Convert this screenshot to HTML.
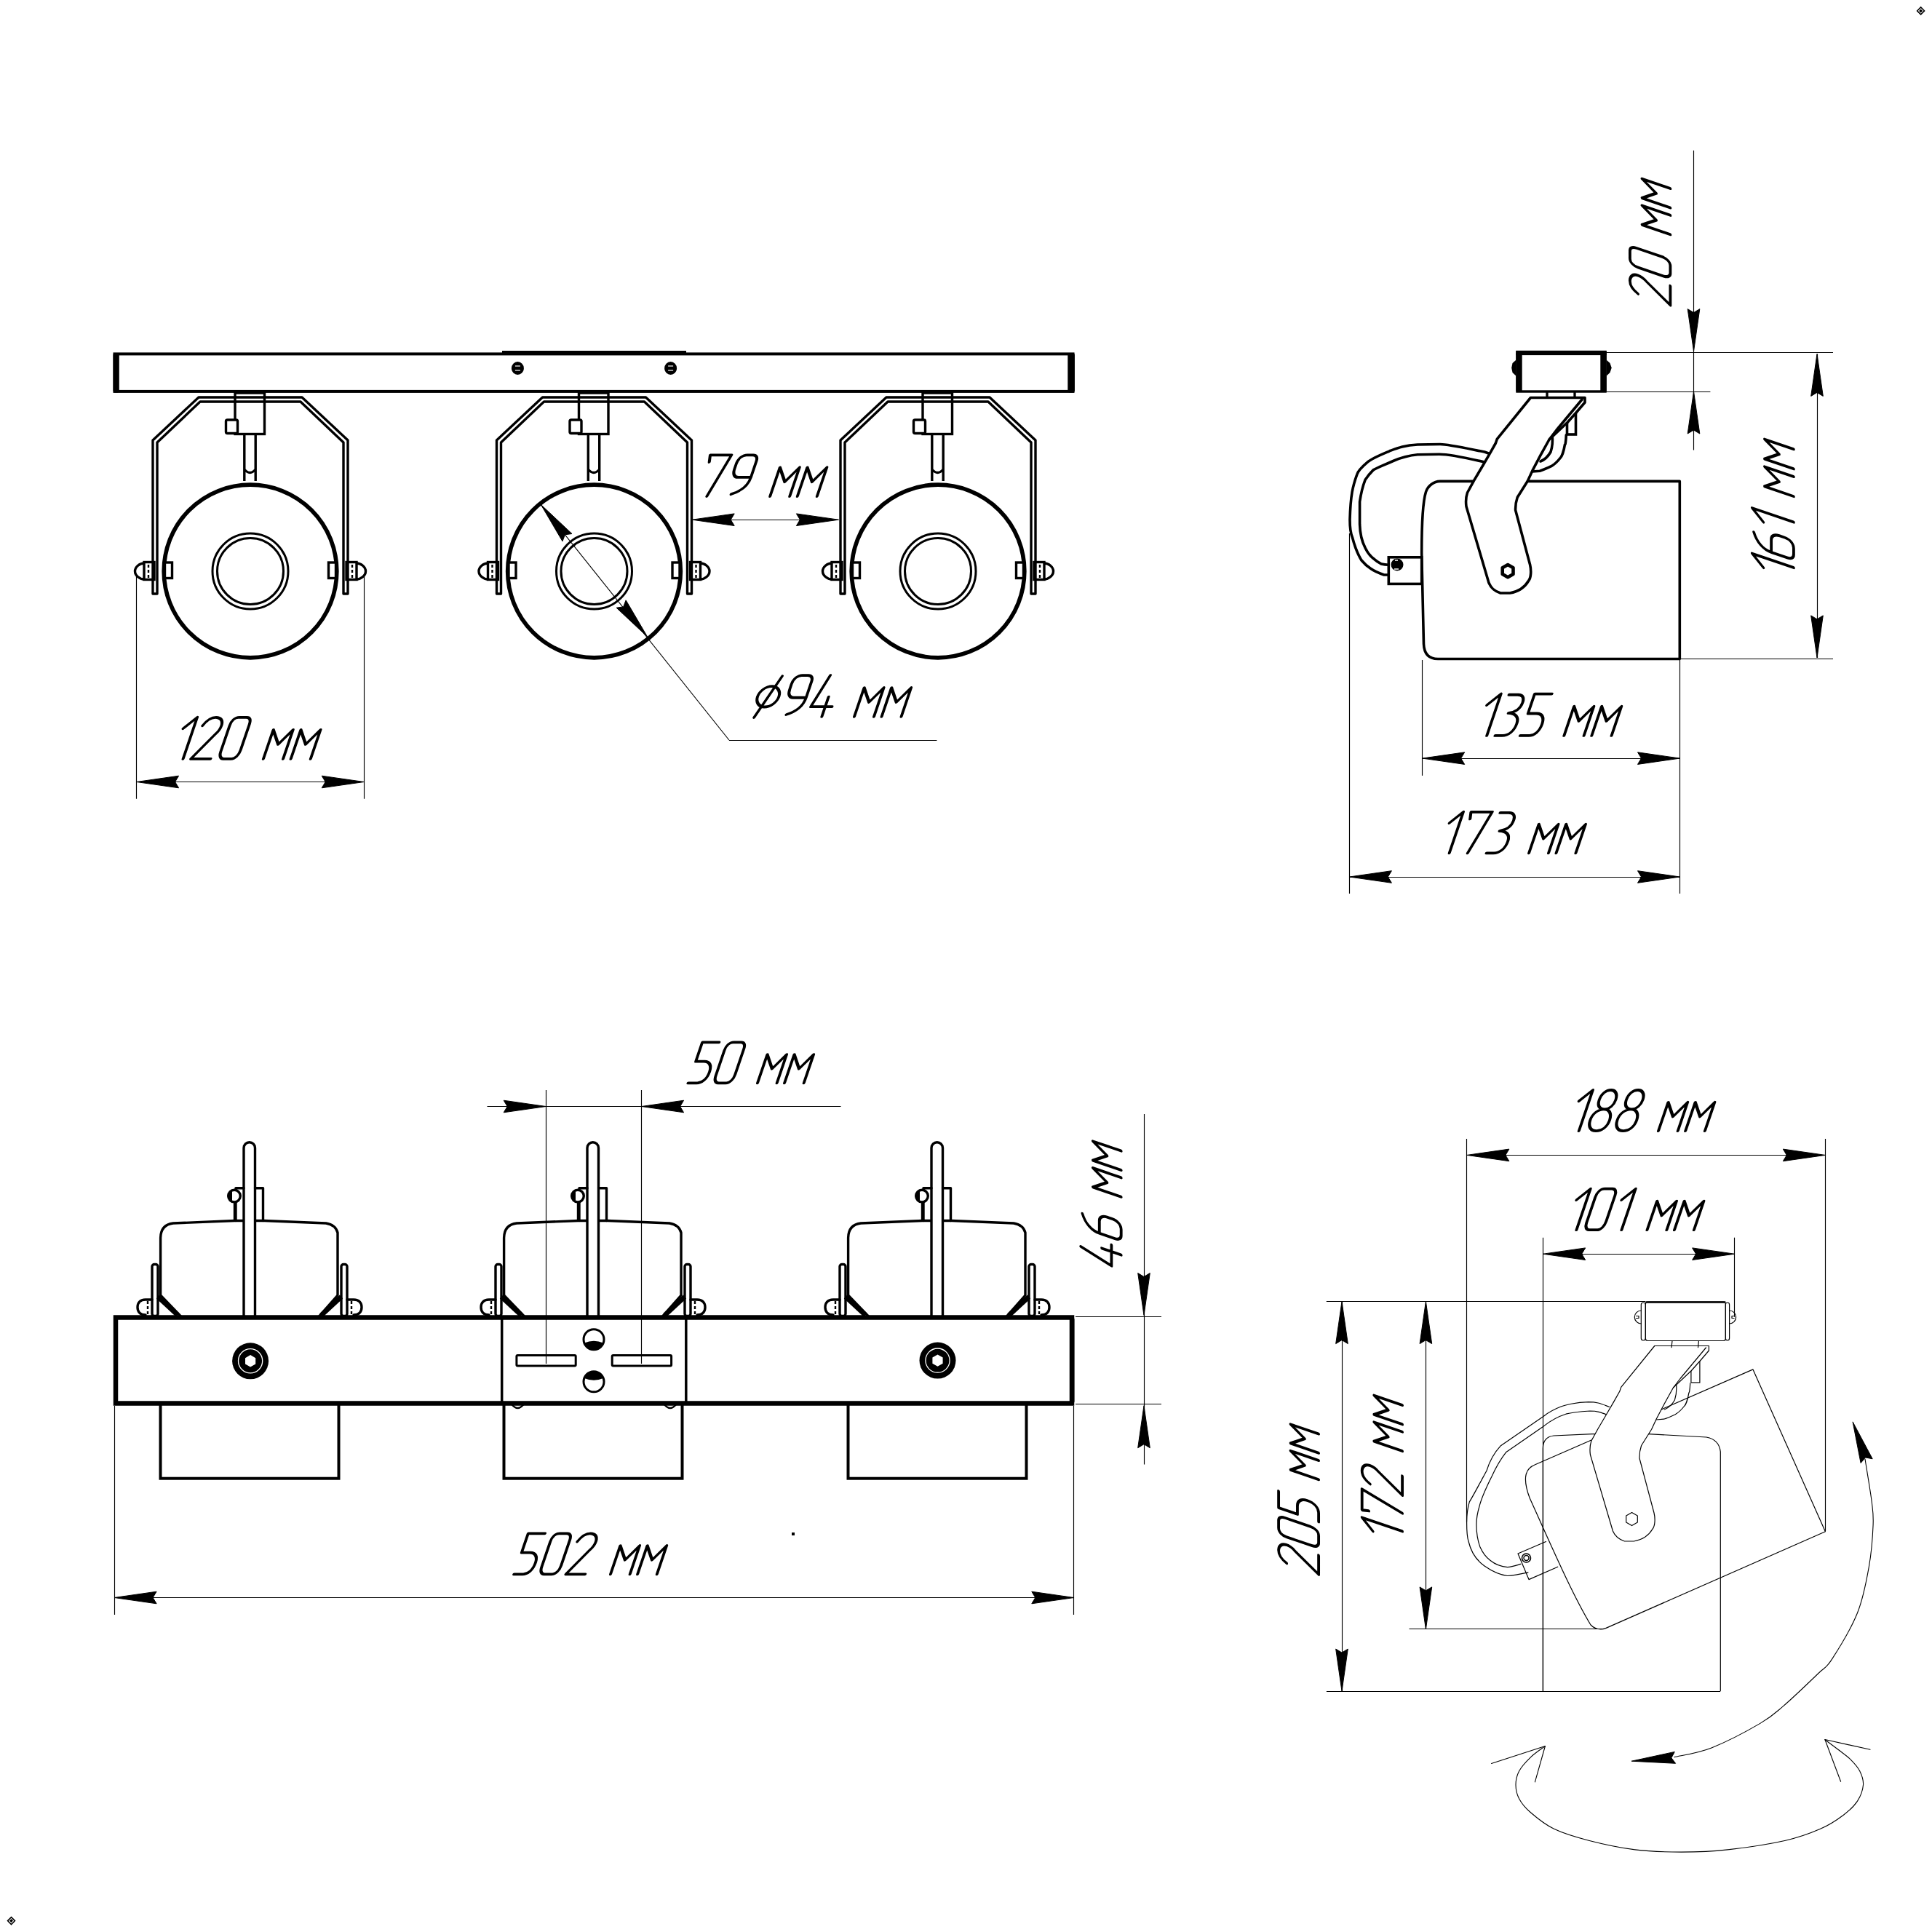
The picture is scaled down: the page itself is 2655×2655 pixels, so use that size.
<!DOCTYPE html>
<html><head><meta charset="utf-8"><style>
html,body{margin:0;padding:0;background:#fff;}
svg{display:block;}
</style></head><body>
<svg xmlns="http://www.w3.org/2000/svg" width="2655" height="2655" viewBox="0 0 2655 2655">
<rect width="2655" height="2655" fill="#fff"/>
<rect x="157.5" y="486.4" width="1317" height="51.5" fill="none" stroke="#000" stroke-width="4"/><rect x="155.5" y="485" width="8.3" height="54.5" fill="#000" rx="3"/><rect x="1467.3" y="485" width="9.6" height="54.5" fill="#000" rx="3"/><rect x="690" y="482" width="253" height="5" fill="#000"/><ellipse cx="711.4" cy="506" rx="8.5" ry="9" fill="#000"/><line x1="707.9" y1="503" x2="714.9" y2="503" stroke="#fff" stroke-width="1.2"/><line x1="707.9" y1="509" x2="714.9" y2="509" stroke="#fff" stroke-width="1.2"/><ellipse cx="921.6" cy="506" rx="8.5" ry="9" fill="#000"/><line x1="918.1" y1="503" x2="925.1" y2="503" stroke="#fff" stroke-width="1.2"/><line x1="918.1" y1="509" x2="925.1" y2="509" stroke="#fff" stroke-width="1.2"/><path d="M213,816 L210,816 L210,605 L273,546 L415,546 L478,605 L478,816 L472,816 L472,608 L413,552 L275,552 L216,608 L216,816 Z" fill="none" stroke="#000" stroke-width="3.4" stroke-linejoin="round"/><rect x="323" y="540" width="40.5" height="56.5" fill="none" stroke="#000" stroke-width="3.4"/><rect x="310.5" y="577" width="16" height="18.5" rx="2" fill="#fff" stroke="#000" stroke-width="3.4"/><path d="M335.8,596.5 L335.8,661 M351.2,596.5 L351.2,661 M335.8,645 Q343.5,654 351.2,645" fill="none" stroke="#000" stroke-width="3.4"/><circle cx="344" cy="785" r="118.8" fill="none" stroke="#000" stroke-width="5.7"/><circle cx="344" cy="785" r="52" fill="none" stroke="#000" stroke-width="3"/><circle cx="344" cy="785" r="45.5" fill="none" stroke="#000" stroke-width="3"/><rect x="226.5" y="773" width="10" height="21.5" fill="#fff" stroke="#000" stroke-width="3.4"/><rect x="198" y="772.5" width="14" height="24" fill="none" stroke="#000" stroke-width="3.4"/><path d="M198,774 C192,774 185.5,779 185.5,785 C185.5,791 192,796 198,796" fill="none" stroke="#000" stroke-width="3.4"/><line x1="204" y1="776" x2="204" y2="794" stroke="#000" stroke-width="2.4" stroke-dasharray="4,3"/><rect x="451.5" y="773" width="10" height="21.5" fill="#fff" stroke="#000" stroke-width="3.4"/><rect x="476" y="772.5" width="14" height="24" fill="none" stroke="#000" stroke-width="3.4"/><path d="M490,774 C496,774 502.5,779 502.5,785 C502.5,791 496,796 490,796" fill="none" stroke="#000" stroke-width="3.4"/><line x1="484" y1="776" x2="484" y2="794" stroke="#000" stroke-width="2.4" stroke-dasharray="4,3"/><path d="M685.5,816 L682.5,816 L682.5,605 L745.5,546 L887.5,546 L950.5,605 L950.5,816 L944.5,816 L944.5,608 L885.5,552 L747.5,552 L688.5,608 L688.5,816 Z" fill="none" stroke="#000" stroke-width="3.4" stroke-linejoin="round"/><rect x="795.5" y="540" width="40.5" height="56.5" fill="none" stroke="#000" stroke-width="3.4"/><rect x="783.0" y="577" width="16" height="18.5" rx="2" fill="#fff" stroke="#000" stroke-width="3.4"/><path d="M808.3,596.5 L808.3,661 M823.7,596.5 L823.7,661 M808.3,645 Q816.0,654 823.7,645" fill="none" stroke="#000" stroke-width="3.4"/><circle cx="816.5" cy="785" r="118.8" fill="none" stroke="#000" stroke-width="5.7"/><circle cx="816.5" cy="785" r="52" fill="none" stroke="#000" stroke-width="3"/><circle cx="816.5" cy="785" r="45.5" fill="none" stroke="#000" stroke-width="3"/><rect x="699.0" y="773" width="10" height="21.5" fill="#fff" stroke="#000" stroke-width="3.4"/><rect x="670.5" y="772.5" width="14" height="24" fill="none" stroke="#000" stroke-width="3.4"/><path d="M670.5,774 C664.5,774 658.0,779 658.0,785 C658.0,791 664.5,796 670.5,796" fill="none" stroke="#000" stroke-width="3.4"/><line x1="676.5" y1="776" x2="676.5" y2="794" stroke="#000" stroke-width="2.4" stroke-dasharray="4,3"/><rect x="924.0" y="773" width="10" height="21.5" fill="#fff" stroke="#000" stroke-width="3.4"/><rect x="948.5" y="772.5" width="14" height="24" fill="none" stroke="#000" stroke-width="3.4"/><path d="M962.5,774 C968.5,774 975.0,779 975.0,785 C975.0,791 968.5,796 962.5,796" fill="none" stroke="#000" stroke-width="3.4"/><line x1="956.5" y1="776" x2="956.5" y2="794" stroke="#000" stroke-width="2.4" stroke-dasharray="4,3"/><path d="M1158,816 L1155,816 L1155,605 L1218,546 L1360,546 L1423,605 L1423,816 L1417,816 L1417,608 L1358,552 L1220,552 L1161,608 L1161,816 Z" fill="none" stroke="#000" stroke-width="3.4" stroke-linejoin="round"/><rect x="1268" y="540" width="40.5" height="56.5" fill="none" stroke="#000" stroke-width="3.4"/><rect x="1255.5" y="577" width="16" height="18.5" rx="2" fill="#fff" stroke="#000" stroke-width="3.4"/><path d="M1280.8,596.5 L1280.8,661 M1296.2,596.5 L1296.2,661 M1280.8,645 Q1288.5,654 1296.2,645" fill="none" stroke="#000" stroke-width="3.4"/><circle cx="1289" cy="785" r="118.8" fill="none" stroke="#000" stroke-width="5.7"/><circle cx="1289" cy="785" r="52" fill="none" stroke="#000" stroke-width="3"/><circle cx="1289" cy="785" r="45.5" fill="none" stroke="#000" stroke-width="3"/><rect x="1171.5" y="773" width="10" height="21.5" fill="#fff" stroke="#000" stroke-width="3.4"/><rect x="1143" y="772.5" width="14" height="24" fill="none" stroke="#000" stroke-width="3.4"/><path d="M1143,774 C1137,774 1130.5,779 1130.5,785 C1130.5,791 1137,796 1143,796" fill="none" stroke="#000" stroke-width="3.4"/><line x1="1149" y1="776" x2="1149" y2="794" stroke="#000" stroke-width="2.4" stroke-dasharray="4,3"/><rect x="1396.5" y="773" width="10" height="21.5" fill="#fff" stroke="#000" stroke-width="3.4"/><rect x="1421" y="772.5" width="14" height="24" fill="none" stroke="#000" stroke-width="3.4"/><path d="M1435,774 C1441,774 1447.5,779 1447.5,785 C1447.5,791 1441,796 1435,796" fill="none" stroke="#000" stroke-width="3.4"/><line x1="1429" y1="776" x2="1429" y2="794" stroke="#000" stroke-width="2.4" stroke-dasharray="4,3"/><line x1="187.5" y1="790.0" x2="187.5" y2="1097.7" stroke="#000" stroke-width="1.15"/><line x1="500.5" y1="790.0" x2="500.5" y2="1097.7" stroke="#000" stroke-width="1.15"/><line x1="187.6" y1="1074.5" x2="500.2" y2="1074.5" stroke="#000" stroke-width="1.15"/><path d="M187.6,1074.5 L245.6,1066.2 L240.6,1074.5 L245.6,1082.8 Z" fill="#000" stroke="#000" stroke-width="1" stroke-linejoin="round"/><path d="M500.2,1074.5 L442.2,1082.8 L447.2,1074.5 L442.2,1066.2 Z" fill="#000" stroke="#000" stroke-width="1" stroke-linejoin="round"/><g transform="translate(236.90,1042.80) rotate(0) scale(5.9000,5.7000) skewX(-18.184) translate(0.000,0)" fill="none" stroke="#000" stroke-width="0.6725" stroke-linecap="round" stroke-linejoin="round"><path transform="translate(0.000,0)" d="M0.1,-7.3 L2.5,-10 L2.5,0"/><path transform="translate(4.300,0)" d="M0.1,-8.0 C0.7,-9.4 1.6,-10 2.5,-10 C3.7,-10 4.5,-9.2 4.5,-8.0 C4.5,-7.1 4.2,-6.5 3.7,-5.9 L0,0 L4.6,0"/><path transform="translate(10.700,0)" d="M1.5,-10 L3.3,-10 C4.1,-10 4.5,-9.3 4.5,-8.4 L4.5,-2.1 C4.5,-0.9 3.9,0 3.0,0 L1.2,0 C0.5,0 0,-0.7 0,-1.7 L0,-8 C0,-9.2 0.6,-10 1.5,-10 Z"/><path transform="translate(21.200,0)" d="M0,0 L0,-7 L2.3,-3.5 L4.6,-7 L4.6,0"/><path transform="translate(27.600,0)" d="M0,0 L0,-7 L2.3,-3.5 L4.6,-7 L4.6,0"/></g><line x1="951.2" y1="714.5" x2="1152.4" y2="714.5" stroke="#000" stroke-width="1.15"/><path d="M951.2,714.2 L1009.2,705.9 L1004.2,714.2 L1009.2,722.5 Z" fill="#000" stroke="#000" stroke-width="1" stroke-linejoin="round"/><path d="M1152.4,714.2 L1094.4,722.5 L1099.4,714.2 L1094.4,705.9 Z" fill="#000" stroke="#000" stroke-width="1" stroke-linejoin="round"/><g transform="translate(956.70,682.00) rotate(0) scale(5.8700,5.6700) skewX(-18.181) translate(0.000,0)" fill="none" stroke="#000" stroke-width="0.6760" stroke-linecap="round" stroke-linejoin="round"><path transform="translate(0.000,0)" d="M0.35,-8.3 L0,-10 L5.0,-10 L2.5,0"/><path transform="translate(6.800,0)" d="M4.5,-4.6 L1.5,-4.6 C0.6,-4.6 0,-5.4 0,-6.6 L0,-7.8 C0,-9.2 0.8,-10 1.8,-10 L3.2,-10 C4.0,-10 4.5,-9.4 4.5,-8.5 L4.5,-4.6 C4.5,-2.6 3.2,-1.2 1.2,-0.5"/><path transform="translate(17.300,0)" d="M0,0 L0,-7 L2.3,-3.5 L4.6,-7 L4.6,0"/><path transform="translate(23.700,0)" d="M0,0 L0,-7 L2.3,-3.5 L4.6,-7 L4.6,0"/></g><line x1="743.3" y1="693.4" x2="1001.9" y2="1017.0" stroke="#000" stroke-width="1.15"/><line x1="1001.9" y1="1017.5" x2="1287.4" y2="1017.5" stroke="#000" stroke-width="1.15"/><path d="M743.3,693.4 L786.0,733.5 L776.4,734.8 L773.0,743.9 Z" fill="#000" stroke="#000" stroke-width="1" stroke-linejoin="round"/><path d="M889.8,875.3 L847.1,835.2 L856.7,833.9 L860.1,824.8 Z" fill="#000" stroke="#000" stroke-width="1" stroke-linejoin="round"/><g transform="translate(1030.80,984.80) rotate(0) scale(5.8700,5.6700) skewX(-18.181) translate(0.000,0)" fill="none" stroke="#000" stroke-width="0.6760" stroke-linecap="round" stroke-linejoin="round"><path transform="translate(0.000,0)" d="M5.15,-4.85 A2.5,2.5 0 1 1 0.15,-4.85 A2.5,2.5 0 1 1 5.15,-4.85 Z M1.0,0.2 L4.3,-9.8"/><path transform="translate(7.100,0)" d="M4.5,-4.6 L1.5,-4.6 C0.6,-4.6 0,-5.4 0,-6.6 L0,-7.8 C0,-9.2 0.8,-10 1.8,-10 L3.2,-10 C4.0,-10 4.5,-9.4 4.5,-8.5 L4.5,-4.6 C4.5,-2.6 3.2,-1.2 1.2,-0.5"/><path transform="translate(13.400,0)" d="M2.1,-10 L0,-2.4 L5.0,-2.4 M3.4,-4.8 L3.4,0"/><path transform="translate(24.400,0)" d="M0,0 L0,-7 L2.3,-3.5 L4.6,-7 L4.6,0"/><path transform="translate(30.800,0)" d="M0,0 L0,-7 L2.3,-3.5 L4.6,-7 L4.6,0"/></g><rect x="220.5" y="1928" width="245" height="103.7" fill="none" stroke="#000" stroke-width="4"/><path d="M248,1808.4 L220.6,1780 L220.6,1701 Q221,1683 238,1681 L323,1677.5 L363,1677.5 L448,1681 Q461,1683 464,1694 L464,1780 L439,1808.4" fill="none" stroke="#000" stroke-width="3.4" stroke-linejoin="round" stroke-linecap="round" /><path d="M335,1809 L335,1577.5 A7.75,7.75 0 0 1 350.5,1577.5 L350.5,1809" fill="#fff" stroke="#000" stroke-width="3.4"/><path d="M324,1677.5 L324,1632.8 L335,1632.8 M350.5,1632.8 L361.5,1632.8 L361.5,1677.5" fill="none" stroke="#000" stroke-width="3.4" stroke-linejoin="round" stroke-linecap="round" /><circle cx="322" cy="1643.6" r="8.3" fill="#fff" stroke="#000" stroke-width="3.4"/><path d="M319,1635.5 A8.3,8.3 0 0 0 319,1651.7 Z" fill="#000"/><line x1="322.5" y1="1652.0" x2="322.5" y2="1677.5" stroke="#000" stroke-width="3.4"/><rect x="209" y="1737.5" width="8" height="71" rx="3" fill="#fff" stroke="#000" stroke-width="3.4"/><line x1="217.0" y1="1782.0" x2="244.5" y2="1807.5" stroke="#000" stroke-width="6.5"/><path d="M209,1786 L200,1786 C192,1786 189,1791 189,1796.5 C189,1802 192,1807 200,1807" fill="none" stroke="#000" stroke-width="3.4" stroke-linejoin="round" stroke-linecap="round" /><line x1="203" y1="1788" x2="203" y2="1806" stroke="#000" stroke-width="2.4" stroke-dasharray="4,3"/><rect x="469" y="1737.5" width="8" height="71" rx="3" fill="#fff" stroke="#000" stroke-width="3.4"/><line x1="469.0" y1="1782.0" x2="441.5" y2="1807.5" stroke="#000" stroke-width="6.5"/><path d="M477,1786 L486,1786 C494,1786 497,1791 497,1796.5 C497,1802 494,1807 486,1807" fill="none" stroke="#000" stroke-width="3.4" stroke-linejoin="round" stroke-linecap="round" /><line x1="483" y1="1788" x2="483" y2="1806" stroke="#000" stroke-width="2.4" stroke-dasharray="4,3"/><rect x="692.5" y="1928" width="245" height="103.7" fill="none" stroke="#000" stroke-width="4"/><path d="M720,1808.4 L692.6,1780 L692.6,1701 Q693,1683 710,1681 L795,1677.5 L835,1677.5 L920,1681 Q933,1683 936,1694 L936,1780 L911,1808.4" fill="none" stroke="#000" stroke-width="3.4" stroke-linejoin="round" stroke-linecap="round" /><path d="M807,1809 L807,1577.5 A7.75,7.75 0 0 1 822.5,1577.5 L822.5,1809" fill="#fff" stroke="#000" stroke-width="3.4"/><path d="M796,1677.5 L796,1632.8 L807,1632.8 M822.5,1632.8 L833.5,1632.8 L833.5,1677.5" fill="none" stroke="#000" stroke-width="3.4" stroke-linejoin="round" stroke-linecap="round" /><circle cx="794" cy="1643.6" r="8.3" fill="#fff" stroke="#000" stroke-width="3.4"/><path d="M791,1635.5 A8.3,8.3 0 0 0 791,1651.7 Z" fill="#000"/><line x1="794.5" y1="1652.0" x2="794.5" y2="1677.5" stroke="#000" stroke-width="3.4"/><rect x="681" y="1737.5" width="8" height="71" rx="3" fill="#fff" stroke="#000" stroke-width="3.4"/><line x1="689.0" y1="1782.0" x2="716.5" y2="1807.5" stroke="#000" stroke-width="6.5"/><path d="M681,1786 L672,1786 C664,1786 661,1791 661,1796.5 C661,1802 664,1807 672,1807" fill="none" stroke="#000" stroke-width="3.4" stroke-linejoin="round" stroke-linecap="round" /><line x1="675" y1="1788" x2="675" y2="1806" stroke="#000" stroke-width="2.4" stroke-dasharray="4,3"/><rect x="941" y="1737.5" width="8" height="71" rx="3" fill="#fff" stroke="#000" stroke-width="3.4"/><line x1="941.0" y1="1782.0" x2="913.5" y2="1807.5" stroke="#000" stroke-width="6.5"/><path d="M949,1786 L958,1786 C966,1786 969,1791 969,1796.5 C969,1802 966,1807 958,1807" fill="none" stroke="#000" stroke-width="3.4" stroke-linejoin="round" stroke-linecap="round" /><line x1="955" y1="1788" x2="955" y2="1806" stroke="#000" stroke-width="2.4" stroke-dasharray="4,3"/><rect x="1165.5" y="1928" width="245" height="103.7" fill="none" stroke="#000" stroke-width="4"/><path d="M1193,1808.4 L1165.6,1780 L1165.6,1701 Q1166,1683 1183,1681 L1268,1677.5 L1308,1677.5 L1393,1681 Q1406,1683 1409,1694 L1409,1780 L1384,1808.4" fill="none" stroke="#000" stroke-width="3.4" stroke-linejoin="round" stroke-linecap="round" /><path d="M1280,1809 L1280,1577.5 A7.75,7.75 0 0 1 1295.5,1577.5 L1295.5,1809" fill="#fff" stroke="#000" stroke-width="3.4"/><path d="M1269,1677.5 L1269,1632.8 L1280,1632.8 M1295.5,1632.8 L1306.5,1632.8 L1306.5,1677.5" fill="none" stroke="#000" stroke-width="3.4" stroke-linejoin="round" stroke-linecap="round" /><circle cx="1267" cy="1643.6" r="8.3" fill="#fff" stroke="#000" stroke-width="3.4"/><path d="M1264,1635.5 A8.3,8.3 0 0 0 1264,1651.7 Z" fill="#000"/><line x1="1267.5" y1="1652.0" x2="1267.5" y2="1677.5" stroke="#000" stroke-width="3.4"/><rect x="1154" y="1737.5" width="8" height="71" rx="3" fill="#fff" stroke="#000" stroke-width="3.4"/><line x1="1162.0" y1="1782.0" x2="1189.5" y2="1807.5" stroke="#000" stroke-width="6.5"/><path d="M1154,1786 L1145,1786 C1137,1786 1134,1791 1134,1796.5 C1134,1802 1137,1807 1145,1807" fill="none" stroke="#000" stroke-width="3.4" stroke-linejoin="round" stroke-linecap="round" /><line x1="1148" y1="1788" x2="1148" y2="1806" stroke="#000" stroke-width="2.4" stroke-dasharray="4,3"/><rect x="1414" y="1737.5" width="8" height="71" rx="3" fill="#fff" stroke="#000" stroke-width="3.4"/><line x1="1414.0" y1="1782.0" x2="1386.5" y2="1807.5" stroke="#000" stroke-width="6.5"/><path d="M1422,1786 L1431,1786 C1439,1786 1442,1791 1442,1796.5 C1442,1802 1439,1807 1431,1807" fill="none" stroke="#000" stroke-width="3.4" stroke-linejoin="round" stroke-linecap="round" /><line x1="1428" y1="1788" x2="1428" y2="1806" stroke="#000" stroke-width="2.4" stroke-dasharray="4,3"/><rect x="159" y="1810.5" width="1314" height="118" fill="#fff" stroke="#000" stroke-width="6.5"/><rect x="156" y="1811" width="6" height="117" fill="#000" rx="2"/><rect x="1470" y="1811" width="6.5" height="117" fill="#000" rx="2"/><line x1="689.7" y1="1810.0" x2="689.7" y2="1928.0" stroke="#000" stroke-width="3.5"/><line x1="942.8" y1="1810.0" x2="942.8" y2="1928.0" stroke="#000" stroke-width="3.5"/><rect x="709.9" y="1862.4" width="81.3" height="14.6" rx="1.5" fill="none" stroke="#000" stroke-width="3"/><rect x="841.2" y="1862.4" width="81.4" height="14.6" rx="1.5" fill="none" stroke="#000" stroke-width="3"/><circle cx="816" cy="1840.7" r="14" fill="none" stroke="#000" stroke-width="3"/><circle cx="816" cy="1898.8" r="14" fill="none" stroke="#000" stroke-width="3"/><path d="M803,1845.5 Q816,1840 829,1845.5 A14,14 0 0 1 803,1845.5 Z" fill="#000"/><path d="M803,1894 Q816,1899.5 829,1894 A14,14 0 0 0 803,1894 Z" fill="#000"/><path d="M703.4,1930 Q711.4,1940 719.4,1930" fill="none" stroke="#000" stroke-width="2.5" stroke-linejoin="round" stroke-linecap="round" /><path d="M913,1930 Q921,1940 929,1930" fill="none" stroke="#000" stroke-width="2.5" stroke-linejoin="round" stroke-linecap="round" /><circle cx="344.1" cy="1870.3" r="25" fill="#000"/><circle cx="344.1" cy="1870.3" r="16.6" fill="none" stroke="#fff" stroke-width="1.3"/><path d="M351.2,1874.4 L344.1,1878.5 L337.0,1874.4 L337.0,1866.2 L344.1,1862.1 L351.2,1866.2 Z" fill="#fff"/><circle cx="1288.5" cy="1869.6" r="25" fill="#000"/><circle cx="1288.5" cy="1869.6" r="16.6" fill="none" stroke="#fff" stroke-width="1.3"/><path d="M1295.6,1873.7 L1288.5,1877.8 L1281.4,1873.7 L1281.4,1865.5 L1288.5,1861.4 L1295.6,1865.5 Z" fill="#fff"/><line x1="157.5" y1="1932.0" x2="157.5" y2="2218.9" stroke="#000" stroke-width="1.15"/><line x1="1475.5" y1="1932.0" x2="1475.5" y2="2219.0" stroke="#000" stroke-width="1.15"/><line x1="157.1" y1="2195.5" x2="1475.8" y2="2195.5" stroke="#000" stroke-width="1.15"/><path d="M157.1,2195.5 L215.1,2187.2 L210.1,2195.5 L215.1,2203.8 Z" fill="#000" stroke="#000" stroke-width="1" stroke-linejoin="round"/><path d="M1475.8,2195.5 L1417.8,2203.8 L1422.8,2195.5 L1417.8,2187.2 Z" fill="#000" stroke="#000" stroke-width="1" stroke-linejoin="round"/><g transform="translate(706.20,2163.30) rotate(0) scale(5.8000,5.6000) skewX(-18.174) translate(0.000,0)" fill="none" stroke="#000" stroke-width="0.6843" stroke-linecap="round" stroke-linejoin="round"><path transform="translate(0.000,0)" d="M4.1,-10 L0.1,-10 L0.1,-5.3 L2.1,-5.3 C3.4,-5.3 4.2,-4.3 4.2,-2.8 C4.2,-1.0 3.3,0 2.1,0 L0,0"/><path transform="translate(6.000,0)" d="M1.5,-10 L3.3,-10 C4.1,-10 4.5,-9.3 4.5,-8.4 L4.5,-2.1 C4.5,-0.9 3.9,0 3.0,0 L1.2,0 C0.5,0 0,-0.7 0,-1.7 L0,-8 C0,-9.2 0.6,-10 1.5,-10 Z"/><path transform="translate(12.300,0)" d="M0.1,-8.0 C0.7,-9.4 1.6,-10 2.5,-10 C3.7,-10 4.5,-9.2 4.5,-8.0 C4.5,-7.1 4.2,-6.5 3.7,-5.9 L0,0 L4.6,0"/><path transform="translate(22.900,0)" d="M0,0 L0,-7 L2.3,-3.5 L4.6,-7 L4.6,0"/><path transform="translate(29.300,0)" d="M0,0 L0,-7 L2.3,-3.5 L4.6,-7 L4.6,0"/></g><line x1="1478.0" y1="1809.5" x2="1596.0" y2="1809.5" stroke="#000" stroke-width="1.15"/><line x1="1478.0" y1="1929.5" x2="1596.0" y2="1929.5" stroke="#000" stroke-width="1.15"/><line x1="1572.5" y1="1531.0" x2="1572.5" y2="2012.4" stroke="#000" stroke-width="1.15"/><path d="M1572.0,1807.5 L1563.7,1749.5 L1572.0,1754.5 L1580.3,1749.5 Z" fill="#000" stroke="#000" stroke-width="1" stroke-linejoin="round"/><path d="M1572.0,1931.7 L1580.3,1989.7 L1572.0,1984.7 L1563.7,1989.7 Z" fill="#000" stroke="#000" stroke-width="1" stroke-linejoin="round"/><g transform="translate(1540.70,1744.00) rotate(-90) scale(5.7400,5.5400) skewX(-18.167) translate(0.000,0)" fill="none" stroke="#000" stroke-width="0.6916" stroke-linecap="round" stroke-linejoin="round"><path transform="translate(0.000,0)" d="M2.1,-10 L0,-2.4 L5.0,-2.4 M3.4,-4.8 L3.4,0"/><path transform="translate(6.800,0)" d="M0,-5.4 L3.0,-5.4 C3.9,-5.4 4.5,-4.6 4.5,-3.4 L4.5,-2.2 C4.5,-0.8 3.7,0 2.7,0 L1.3,0 C0.5,0 0,-0.6 0,-1.5 L0,-5.4 C0,-7.4 1.3,-8.9 3.3,-9.6"/><path transform="translate(17.300,0)" d="M0,0 L0,-7 L2.3,-3.5 L4.6,-7 L4.6,0"/><path transform="translate(23.700,0)" d="M0,0 L0,-7 L2.3,-3.5 L4.6,-7 L4.6,0"/></g><line x1="750.5" y1="1498.0" x2="750.5" y2="1874.0" stroke="#000" stroke-width="1.15"/><line x1="881.5" y1="1498.0" x2="881.5" y2="1874.0" stroke="#000" stroke-width="1.15"/><line x1="669.5" y1="1520.5" x2="1155.5" y2="1520.5" stroke="#000" stroke-width="1.15"/><path d="M750.2,1520.5 L692.2,1528.8 L697.2,1520.5 L692.2,1512.2 Z" fill="#000" stroke="#000" stroke-width="1" stroke-linejoin="round"/><path d="M881.6,1520.5 L939.6,1512.2 L934.6,1520.5 L939.6,1528.8 Z" fill="#000" stroke="#000" stroke-width="1" stroke-linejoin="round"/><g transform="translate(945.50,1488.30) rotate(0) scale(5.7900,5.5900) skewX(-18.173) translate(0.000,0)" fill="none" stroke="#000" stroke-width="0.6855" stroke-linecap="round" stroke-linejoin="round"><path transform="translate(0.000,0)" d="M4.1,-10 L0.1,-10 L0.1,-5.3 L2.1,-5.3 C3.4,-5.3 4.2,-4.3 4.2,-2.8 C4.2,-1.0 3.3,0 2.1,0 L0,0"/><path transform="translate(6.000,0)" d="M1.5,-10 L3.3,-10 C4.1,-10 4.5,-9.3 4.5,-8.4 L4.5,-2.1 C4.5,-0.9 3.9,0 3.0,0 L1.2,0 C0.5,0 0,-0.7 0,-1.7 L0,-8 C0,-9.2 0.6,-10 1.5,-10 Z"/><path transform="translate(16.500,0)" d="M0,0 L0,-7 L2.3,-3.5 L4.6,-7 L4.6,0"/><path transform="translate(22.900,0)" d="M0,0 L0,-7 L2.3,-3.5 L4.6,-7 L4.6,0"/></g><path d="M1979,661.4 L2308.3,661.4 L2308.3,905.5 L1976,905.5 C1962,905.5 1957,897 1956.5,885 L1953.7,760 C1953.7,720 1955,690 1959.5,676 C1962,668 1970,661.4 1979,661.4 Z" fill="none" stroke="#000" stroke-width="3.6" stroke-linejoin="round" stroke-linecap="round" /><path d="M2047,623.5 L2040,621 C2010,615 1990,610.5 1979,610.5 L1948,611 C1930,612 1920,616 1909.6,619.8 C1895,626 1885,630 1879.8,634.7 C1870,643 1866,648 1864.8,652.1 C1859,668 1856,680 1855,714 C1855,725 1856,733 1858.6,739 C1862,752 1866,762 1871,770 C1876,776 1880,779 1883.5,781.3 C1890,786 1896,788 1902,790 L1908.3,790" fill="none" stroke="#000" stroke-width="3.6" stroke-linejoin="round" stroke-linecap="round" /><path d="M2038.8,634.7 C2010,628 1990,624.2 1977.9,624.2 L1948,624.8 C1935,626 1925,629 1914.5,633.5 C1900,640 1892,643 1887.2,645.9 C1882,651 1879,655 1876,659.6 C1872,670 1870,680 1868.6,689.4 L1868.6,720.4 C1869,735 1872,745 1876,752.7 C1879,759 1882,763 1886,766.4 C1890,770 1894,773 1898.4,775.1 C1902,776 1905,776.3 1908.3,776.3" fill="none" stroke="#000" stroke-width="3.6" stroke-linejoin="round" stroke-linecap="round" /><rect x="1908.3" y="765.8" width="45.4" height="36.6" fill="none" stroke="#000" stroke-width="3.6"/><circle cx="1920" cy="776" r="8.5" fill="#000"/><path d="M1917,770 L1921,770 M1916,782 L1922,782" stroke="#fff" stroke-width="1.3"/><g transform="translate(0,0)"><rect x="2153.5" y="568" width="12" height="29" fill="#fff" stroke="#000" stroke-width="3.6"/><path d="M2133,597 C2134,606 2133,615 2131,621 C2127,628 2122,632 2117,634 M2152.3,597.8 C2152,606 2151,612 2150.5,610.8 C2149,620 2146,628 2144,629.5 C2139,636 2133,640 2131.8,640.7 C2125,644 2120,646 2116,647.2 L2105.7,648" fill="none" stroke="#000" stroke-width="3.6" stroke-linejoin="round" stroke-linecap="round" /><path d="M2103.4,546.5 L2178,546.5 L2178,553 L2166,567 L2154,580.5 L2129,604 L2117,625.7 L2105.7,647.2 L2099.2,661.2 L2085.2,683.5 C2083,690 2082.4,694 2082.6,701 L2102.6,776 C2104.5,784 2104,794 2100.7,798 C2096,806 2087,813 2075,815 L2062,815 C2053,812 2049,808 2046,801 L2015,696 C2014,688 2014.4,683 2016.5,677 L2025.7,660.2 L2037.6,640 L2047,623.9 L2055.4,609 L2057.3,603.4 Z" fill="#fff" stroke="#000" stroke-width="3.6" stroke-linejoin="round" stroke-linecap="round" /><path d="M2174,549 L2139,591 L2129,604" fill="none" stroke="#000" stroke-width="3.6" stroke-linejoin="round" stroke-linecap="round" /><path d="M2079.5,788.9 L2072.1,793.2 L2064.7,788.9 L2064.7,780.3 L2072.1,776.0 L2079.5,780.3 Z" fill="none" stroke="#000" stroke-width="4.6" stroke-linejoin="round" stroke-linecap="round" /></g><rect x="2085" y="483.5" width="121" height="54.5" fill="none" stroke="#000" stroke-width="3.4"/><rect x="2083.3" y="482.1" width="124.4" height="6" fill="#000"/><rect x="2083.3" y="484" width="8.4" height="55" rx="2" fill="#000"/><rect x="2199.3" y="484" width="8.4" height="55" rx="2" fill="#000"/><path d="M2083.3,494.7 L2078.5,499 L2077.2,505.5 L2078.5,512 L2083.3,516.6 Z" fill="#000"/><path d="M2207.7,494.7 L2212.5,499 L2214.7,505.5 L2212.5,512 L2207.7,516.6 Z" fill="#000"/><path d="M2126,539.4 L2126,546 M2164,539.4 L2164,546" fill="none" stroke="#000" stroke-width="3.3" stroke-linejoin="round" stroke-linecap="round" /><line x1="2203.0" y1="484.5" x2="2519.0" y2="484.5" stroke="#000" stroke-width="1.15"/><line x1="2203.0" y1="538.5" x2="2350.4" y2="538.5" stroke="#000" stroke-width="1.15"/><line x1="2327.5" y1="206.8" x2="2327.5" y2="618.5" stroke="#000" stroke-width="1.15"/><path d="M2327.5,482.6 L2319.2,424.6 L2327.5,429.6 L2335.8,424.6 Z" fill="#000" stroke="#000" stroke-width="1" stroke-linejoin="round"/><path d="M2327.5,538.0 L2335.8,596.0 L2327.5,591.0 L2319.2,596.0 Z" fill="#000" stroke="#000" stroke-width="1" stroke-linejoin="round"/><g transform="translate(2295.40,419.40) rotate(-90) scale(5.7500,5.5500) skewX(-18.168) translate(0.000,0)" fill="none" stroke="#000" stroke-width="0.6904" stroke-linecap="round" stroke-linejoin="round"><path transform="translate(0.000,0)" d="M0.1,-8.0 C0.7,-9.4 1.6,-10 2.5,-10 C3.7,-10 4.5,-9.2 4.5,-8.0 C4.5,-7.1 4.2,-6.5 3.7,-5.9 L0,0 L4.6,0"/><path transform="translate(6.400,0)" d="M1.5,-10 L3.3,-10 C4.1,-10 4.5,-9.3 4.5,-8.4 L4.5,-2.1 C4.5,-0.9 3.9,0 3.0,0 L1.2,0 C0.5,0 0,-0.7 0,-1.7 L0,-8 C0,-9.2 0.6,-10 1.5,-10 Z"/><path transform="translate(16.900,0)" d="M0,0 L0,-7 L2.3,-3.5 L4.6,-7 L4.6,0"/><path transform="translate(23.300,0)" d="M0,0 L0,-7 L2.3,-3.5 L4.6,-7 L4.6,0"/></g><line x1="2310.0" y1="905.5" x2="2519.0" y2="905.5" stroke="#000" stroke-width="1.15"/><line x1="2497.5" y1="486.4" x2="2497.5" y2="903.9" stroke="#000" stroke-width="1.15"/><path d="M2497.0,486.4 L2505.3,544.4 L2497.0,539.4 L2488.7,544.4 Z" fill="#000" stroke="#000" stroke-width="1" stroke-linejoin="round"/><path d="M2497.0,903.9 L2488.7,845.9 L2497.0,850.9 L2505.3,845.9 Z" fill="#000" stroke="#000" stroke-width="1" stroke-linejoin="round"/><g transform="translate(2464.90,794.80) rotate(-90) scale(5.9000,5.7000) skewX(-18.184) translate(0.000,0)" fill="none" stroke="#000" stroke-width="0.6725" stroke-linecap="round" stroke-linejoin="round"><path transform="translate(0.000,0)" d="M0.1,-7.3 L2.5,-10 L2.5,0"/><path transform="translate(4.300,0)" d="M0,-5.4 L3.0,-5.4 C3.9,-5.4 4.5,-4.6 4.5,-3.4 L4.5,-2.2 C4.5,-0.8 3.7,0 2.7,0 L1.3,0 C0.5,0 0,-0.6 0,-1.5 L0,-5.4 C0,-7.4 1.3,-8.9 3.3,-9.6"/><path transform="translate(10.600,0)" d="M0.1,-7.3 L2.5,-10 L2.5,0"/><path transform="translate(19.100,0)" d="M0,0 L0,-7 L2.3,-3.5 L4.6,-7 L4.6,0"/><path transform="translate(25.500,0)" d="M0,0 L0,-7 L2.3,-3.5 L4.6,-7 L4.6,0"/></g><line x1="1954.5" y1="907.0" x2="1954.5" y2="1065.9" stroke="#000" stroke-width="1.15"/><line x1="2308.5" y1="907.0" x2="2308.5" y2="1228.0" stroke="#000" stroke-width="1.15"/><line x1="1854.5" y1="733.0" x2="1854.5" y2="1228.0" stroke="#000" stroke-width="1.15"/><line x1="1954.7" y1="1042.5" x2="2308.5" y2="1042.5" stroke="#000" stroke-width="1.15"/><path d="M1954.7,1042.1 L2012.7,1033.8 L2007.7,1042.1 L2012.7,1050.4 Z" fill="#000" stroke="#000" stroke-width="1" stroke-linejoin="round"/><path d="M2308.5,1042.1 L2250.5,1050.4 L2255.5,1042.1 L2250.5,1033.8 Z" fill="#000" stroke="#000" stroke-width="1" stroke-linejoin="round"/><g transform="translate(2028.40,1010.90) rotate(0) scale(5.9300,5.7300) skewX(-18.187) translate(0.000,0)" fill="none" stroke="#000" stroke-width="0.6691" stroke-linecap="round" stroke-linejoin="round"><path transform="translate(0.000,0)" d="M0.1,-7.3 L2.5,-10 L2.5,0"/><path transform="translate(4.300,0)" d="M0.1,-9.8 L2.2,-9.8 C3.3,-9.8 3.9,-9.0 3.9,-8.0 C3.9,-6.5 3.0,-5.6 1.4,-5.4 C3.2,-5.3 4.2,-4.4 4.2,-2.9 C4.2,-1.1 3.2,0 1.8,0 L0.1,0"/><path transform="translate(10.200,0)" d="M4.1,-10 L0.1,-10 L0.1,-5.3 L2.1,-5.3 C3.4,-5.3 4.2,-4.3 4.2,-2.8 C4.2,-1.0 3.3,0 2.1,0 L0,0"/><path transform="translate(20.400,0)" d="M0,0 L0,-7 L2.3,-3.5 L4.6,-7 L4.6,0"/><path transform="translate(26.800,0)" d="M0,0 L0,-7 L2.3,-3.5 L4.6,-7 L4.6,0"/></g><line x1="1854.4" y1="1205.5" x2="2308.5" y2="1205.5" stroke="#000" stroke-width="1.15"/><path d="M1854.4,1205.0 L1912.4,1196.7 L1907.4,1205.0 L1912.4,1213.3 Z" fill="#000" stroke="#000" stroke-width="1" stroke-linejoin="round"/><path d="M2308.5,1205.0 L2250.5,1213.3 L2255.5,1205.0 L2250.5,1196.7 Z" fill="#000" stroke="#000" stroke-width="1" stroke-linejoin="round"/><g transform="translate(1977.10,1172.30) rotate(0) scale(5.8500,5.6500) skewX(-18.179) translate(0.000,0)" fill="none" stroke="#000" stroke-width="0.6784" stroke-linecap="round" stroke-linejoin="round"><path transform="translate(0.000,0)" d="M0.1,-7.3 L2.5,-10 L2.5,0"/><path transform="translate(4.300,0)" d="M0.35,-8.3 L0,-10 L5.0,-10 L2.5,0"/><path transform="translate(11.100,0)" d="M0.1,-9.8 L2.2,-9.8 C3.3,-9.8 3.9,-9.0 3.9,-8.0 C3.9,-6.5 3.0,-5.6 1.4,-5.4 C3.2,-5.3 4.2,-4.4 4.2,-2.9 C4.2,-1.1 3.2,0 1.8,0 L0.1,0"/><path transform="translate(21.200,0)" d="M0,0 L0,-7 L2.3,-3.5 L4.6,-7 L4.6,0"/><path transform="translate(27.600,0)" d="M0,0 L0,-7 L2.3,-3.5 L4.6,-7 L4.6,0"/></g><path d="M2120.3,2323.4 L2120.3,1991 C2120.3,1980 2126,1974 2135,1973 L2188,1970.6 L2265,1970.6 L2345,1975 C2356,1977 2363,1984 2364.3,1995 L2364.3,2323.4" fill="none" stroke="#000" stroke-width="1.2" stroke-linejoin="round" stroke-linecap="round" /><path d="M2409,1881.9 L2508.4,2104.7 L2206.5,2237.6 C2200,2240 2192,2239 2186,2233 C2160,2190 2130,2120 2102.2,2058.8 C2097,2045 2095,2035 2097.2,2026 C2099,2019 2104,2015 2109.6,2012.8 Z" fill="none" stroke="#000" stroke-width="1.2" stroke-linejoin="round" stroke-linecap="round" /><path d="M2124.5,2118.5 L2086.0,2135.0 L2101.0,2170.6 L2140.7,2153.2" fill="none" stroke="#000" stroke-width="1.2" stroke-linejoin="round" stroke-linecap="round" /><circle cx="2097.5" cy="2141" r="6" fill="none" stroke="#000" stroke-width="1.6"/><circle cx="2097.5" cy="2141" r="3.5" fill="none" stroke="#000" stroke-width="1.4"/><path d="M2211.5,1933.3 C2200,1929 2195,1926.6 2183,1926.6 C2165,1927 2150,1931 2144.4,1933.3 C2135,1937 2128,1941 2122,1945.7 L2062.4,1986.7 C2052,1998 2047,2008 2043,2021 C2030,2045 2022,2060 2019.4,2063.7 C2016,2075 2015.6,2085 2015.6,2092 C2015.6,2105 2016,2112 2018,2118 C2022,2135 2030,2145 2040,2152 C2050,2159 2060,2164 2071.5,2165.5 C2080,2165 2090,2163 2100,2160.8" fill="none" stroke="#000" stroke-width="1.2" stroke-linejoin="round" stroke-linecap="round" /><path d="M2209,1944.5 C2200,1941 2195,1939 2185,1939 C2170,1940 2160,1941 2151.9,1943.2 C2140,1947 2130,1953 2122,1959.4 L2069.9,1995.4 C2060,2008 2055,2018 2050,2029 C2042,2045 2036,2058 2033,2070 C2030,2080 2028.9,2088 2028.9,2095 C2029,2110 2031,2118 2034,2126 C2038,2135 2042,2140 2047.8,2144.2 C2055,2150 2063,2153 2071.5,2153.6 C2078,2153 2084,2151 2089.8,2149.4" fill="none" stroke="#000" stroke-width="1.2" stroke-linejoin="round" stroke-linecap="round" /><g transform="translate(170.4,1303)"><rect x="2153.5" y="568" width="12" height="29" fill="#fff" stroke="#000" stroke-width="1.2"/><path d="M2133,597 C2134,606 2133,615 2131,621 C2127,628 2122,632 2117,634 M2152.3,597.8 C2152,606 2151,612 2150.5,610.8 C2149,620 2146,628 2144,629.5 C2139,636 2133,640 2131.8,640.7 C2125,644 2120,646 2116,647.2 L2105.7,648" fill="none" stroke="#000" stroke-width="1.2" stroke-linejoin="round" stroke-linecap="round" /><path d="M2103.4,546.5 L2178,546.5 L2178,553 L2166,567 L2154,580.5 L2129,604 L2117,625.7 L2105.7,647.2 L2099.2,661.2 L2085.2,683.5 C2083,690 2082.4,694 2082.6,701 L2102.6,776 C2104.5,784 2104,794 2100.7,798 C2096,806 2087,813 2075,815 L2062,815 C2053,812 2049,808 2046,801 L2015,696 C2014,688 2014.4,683 2016.5,677 L2025.7,660.2 L2037.6,640 L2047,623.9 L2055.4,609 L2057.3,603.4 Z" fill="#fff" stroke="#000" stroke-width="1.2" stroke-linejoin="round" stroke-linecap="round" /><path d="M2174,549 L2139,591 L2129,604" fill="none" stroke="#000" stroke-width="1.2" stroke-linejoin="round" stroke-linecap="round" /><path d="M2079.9,789.1 L2072.1,793.6 L2064.3,789.1 L2064.3,780.1 L2072.1,775.6 L2079.9,780.1 Z" fill="none" stroke="#000" stroke-width="1.2" stroke-linejoin="round" stroke-linecap="round" /></g><rect x="2261.4" y="1789" width="110" height="53.5" rx="3" fill="#fff" stroke="#000" stroke-width="1.2"/><line x1="2261.4" y1="1789.5" x2="2371.3" y2="1789.5" stroke="#000" stroke-width="2.6"/><rect x="2255.3" y="1790" width="6" height="52" rx="3" fill="none" stroke="#000" stroke-width="1.2"/><rect x="2371.3" y="1790" width="5.3" height="52" rx="3" fill="none" stroke="#000" stroke-width="1.2"/><path d="M2255.3,1801 A9,9 0 0 0 2255.3,1819 M2248.5,1808.5 L2252,1808.5 L2252,1811.5 L2248.5,1811.5" fill="none" stroke="#000" stroke-width="1.2" stroke-linejoin="round" stroke-linecap="round" /><path d="M2376.6,1801 A9,9 0 0 1 2376.6,1819 M2383,1808.5 L2380,1808.5 L2380,1811.5 L2383,1811.5" fill="none" stroke="#000" stroke-width="1.2" stroke-linejoin="round" stroke-linecap="round" /><path d="M2298,1842.5 L2297,1851.6 M2334.4,1842.5 L2333.5,1851.6" fill="none" stroke="#000" stroke-width="1.2" stroke-linejoin="round" stroke-linecap="round" /><line x1="1822.8" y1="1788.5" x2="2261.0" y2="1788.5" stroke="#000" stroke-width="1.15"/><line x1="2015.5" y1="1564.9" x2="2015.5" y2="2092.0" stroke="#000" stroke-width="1.15"/><line x1="2508.5" y1="1564.9" x2="2508.5" y2="2104.0" stroke="#000" stroke-width="1.15"/><line x1="2015.9" y1="1587.5" x2="2508.3" y2="1587.5" stroke="#000" stroke-width="1.15"/><path d="M2015.9,1587.4 L2073.9,1579.1 L2068.9,1587.4 L2073.9,1595.7 Z" fill="#000" stroke="#000" stroke-width="1" stroke-linejoin="round"/><path d="M2508.3,1587.4 L2450.3,1595.7 L2455.3,1587.4 L2450.3,1579.1 Z" fill="#000" stroke="#000" stroke-width="1" stroke-linejoin="round"/><g transform="translate(2155.30,1554.10) rotate(0) scale(5.8100,5.6100) skewX(-18.175) translate(0.000,0)" fill="none" stroke="#000" stroke-width="0.6831" stroke-linecap="round" stroke-linejoin="round"><path transform="translate(0.000,0)" d="M0.1,-7.3 L2.5,-10 L2.5,0"/><path transform="translate(4.300,0)" d="M2.45,-5.3 C1.2,-5.3 0.5,-6.3 0.5,-7.6 C0.5,-9.0 1.3,-10 2.45,-10 C3.6,-10 4.4,-9.0 4.4,-7.6 C4.4,-6.3 3.7,-5.3 2.45,-5.3 C1.0,-5.3 0,-4.2 0,-2.6 C0,-1.0 1.0,0 2.3,0 C3.6,0 4.6,-1.0 4.6,-2.6 C4.6,-4.2 3.7,-5.3 2.45,-5.3 Z"/><path transform="translate(10.700,0)" d="M2.45,-5.3 C1.2,-5.3 0.5,-6.3 0.5,-7.6 C0.5,-9.0 1.3,-10 2.45,-10 C3.6,-10 4.4,-9.0 4.4,-7.6 C4.4,-6.3 3.7,-5.3 2.45,-5.3 C1.0,-5.3 0,-4.2 0,-2.6 C0,-1.0 1.0,0 2.3,0 C3.6,0 4.6,-1.0 4.6,-2.6 C4.6,-4.2 3.7,-5.3 2.45,-5.3 Z"/><path transform="translate(21.300,0)" d="M0,0 L0,-7 L2.3,-3.5 L4.6,-7 L4.6,0"/><path transform="translate(27.700,0)" d="M0,0 L0,-7 L2.3,-3.5 L4.6,-7 L4.6,0"/></g><line x1="2120.5" y1="1700.7" x2="2120.5" y2="2324.1" stroke="#000" stroke-width="1.15"/><line x1="2383.5" y1="1700.7" x2="2383.5" y2="1809.8" stroke="#000" stroke-width="1.15"/><line x1="2120.7" y1="1723.5" x2="2383.6" y2="1723.5" stroke="#000" stroke-width="1.15"/><path d="M2120.7,1723.2 L2178.7,1714.9 L2173.7,1723.2 L2178.7,1731.5 Z" fill="#000" stroke="#000" stroke-width="1" stroke-linejoin="round"/><path d="M2383.6,1723.2 L2325.6,1731.5 L2330.6,1723.2 L2325.6,1714.9 Z" fill="#000" stroke="#000" stroke-width="1" stroke-linejoin="round"/><g transform="translate(2151.80,1690.20) rotate(0) scale(5.8500,5.6500) skewX(-18.179) translate(0.000,0)" fill="none" stroke="#000" stroke-width="0.6784" stroke-linecap="round" stroke-linejoin="round"><path transform="translate(0.000,0)" d="M0.1,-7.3 L2.5,-10 L2.5,0"/><path transform="translate(4.300,0)" d="M1.5,-10 L3.3,-10 C4.1,-10 4.5,-9.3 4.5,-8.4 L4.5,-2.1 C4.5,-0.9 3.9,0 3.0,0 L1.2,0 C0.5,0 0,-0.7 0,-1.7 L0,-8 C0,-9.2 0.6,-10 1.5,-10 Z"/><path transform="translate(10.600,0)" d="M0.1,-7.3 L2.5,-10 L2.5,0"/><path transform="translate(19.100,0)" d="M0,0 L0,-7 L2.3,-3.5 L4.6,-7 L4.6,0"/><path transform="translate(25.500,0)" d="M0,0 L0,-7 L2.3,-3.5 L4.6,-7 L4.6,0"/></g><line x1="1844.5" y1="1788.6" x2="1844.5" y2="2324.1" stroke="#000" stroke-width="1.15"/><path d="M1844.0,1788.6 L1852.3,1846.6 L1844.0,1841.6 L1835.7,1846.6 Z" fill="#000" stroke="#000" stroke-width="1" stroke-linejoin="round"/><path d="M1844.0,2324.1 L1835.7,2266.1 L1844.0,2271.1 L1852.3,2266.1 Z" fill="#000" stroke="#000" stroke-width="1" stroke-linejoin="round"/><line x1="1822.9" y1="2324.5" x2="2364.2" y2="2324.5" stroke="#000" stroke-width="1.15"/><g transform="translate(1812.10,2163.70) rotate(-90) scale(5.7000,5.5000) skewX(-18.163) translate(0.000,0)" fill="none" stroke="#000" stroke-width="0.6965" stroke-linecap="round" stroke-linejoin="round"><path transform="translate(0.000,0)" d="M0.1,-8.0 C0.7,-9.4 1.6,-10 2.5,-10 C3.7,-10 4.5,-9.2 4.5,-8.0 C4.5,-7.1 4.2,-6.5 3.7,-5.9 L0,0 L4.6,0"/><path transform="translate(6.400,0)" d="M1.5,-10 L3.3,-10 C4.1,-10 4.5,-9.3 4.5,-8.4 L4.5,-2.1 C4.5,-0.9 3.9,0 3.0,0 L1.2,0 C0.5,0 0,-0.7 0,-1.7 L0,-8 C0,-9.2 0.6,-10 1.5,-10 Z"/><path transform="translate(12.700,0)" d="M4.1,-10 L0.1,-10 L0.1,-5.3 L2.1,-5.3 C3.4,-5.3 4.2,-4.3 4.2,-2.8 C4.2,-1.0 3.3,0 2.1,0 L0,0"/><path transform="translate(22.900,0)" d="M0,0 L0,-7 L2.3,-3.5 L4.6,-7 L4.6,0"/><path transform="translate(29.300,0)" d="M0,0 L0,-7 L2.3,-3.5 L4.6,-7 L4.6,0"/></g><line x1="1959.5" y1="1788.6" x2="1959.5" y2="2238.9" stroke="#000" stroke-width="1.15"/><path d="M1959.4,1788.6 L1967.7,1846.6 L1959.4,1841.6 L1951.1,1846.6 Z" fill="#000" stroke="#000" stroke-width="1" stroke-linejoin="round"/><path d="M1959.4,2238.9 L1951.1,2180.9 L1959.4,2185.9 L1967.7,2180.9 Z" fill="#000" stroke="#000" stroke-width="1" stroke-linejoin="round"/><line x1="1936.5" y1="2238.5" x2="2204.0" y2="2238.5" stroke="#000" stroke-width="1.15"/><g transform="translate(1927.10,2118.60) rotate(-90) scale(5.7400,5.5400) skewX(-18.167) translate(0.000,0)" fill="none" stroke="#000" stroke-width="0.6916" stroke-linecap="round" stroke-linejoin="round"><path transform="translate(0.000,0)" d="M0.1,-7.3 L2.5,-10 L2.5,0"/><path transform="translate(4.300,0)" d="M0.35,-8.3 L0,-10 L5.0,-10 L2.5,0"/><path transform="translate(11.100,0)" d="M0.1,-8.0 C0.7,-9.4 1.6,-10 2.5,-10 C3.7,-10 4.5,-9.2 4.5,-8.0 C4.5,-7.1 4.2,-6.5 3.7,-5.9 L0,0 L4.6,0"/><path transform="translate(21.700,0)" d="M0,0 L0,-7 L2.3,-3.5 L4.6,-7 L4.6,0"/><path transform="translate(28.100,0)" d="M0,0 L0,-7 L2.3,-3.5 L4.6,-7 L4.6,0"/></g><path d="M2563.0,2005.0 C2564.5,2014.8 2570.3,2048.6 2572.2,2063.7 C2574.0,2078.8 2574.7,2080.7 2574.1,2095.5 C2573.5,2110.3 2572.0,2132.6 2568.4,2152.8 C2564.8,2173.0 2561.0,2195.3 2552.5,2216.5 C2544.0,2237.7 2526.5,2266.2 2517.5,2280.1 C2508.5,2294.0 2509.6,2289.2 2498.4,2300.0 C2487.2,2310.8 2463.9,2333.2 2450.6,2344.6 C2437.3,2356.0 2435.2,2358.8 2418.8,2368.4 C2402.4,2378.0 2371.6,2394.2 2352.0,2401.9 C2332.4,2409.6 2309.5,2412.5 2301.0,2414.6" fill="none" stroke="#000" stroke-width="1.1" stroke-linejoin="round" stroke-linecap="round" /><path d="M2546.1,1953.9 L2573.2,2004.8 L2563.5,2002.9 L2557.1,2010.5 Z" fill="#000" stroke="#000" stroke-width="1" stroke-linejoin="round"/><path d="M2242.1,2420.2 L2301.3,2407.4 L2296.9,2415.7 L2302.6,2423.3 Z" fill="#000" stroke="#000" stroke-width="1" stroke-linejoin="round"/><path d="M2123.4,2399.6 C2120.1,2402.1 2109.6,2408.9 2103.7,2414.6 C2097.8,2420.3 2091.1,2427.3 2087.7,2433.7 C2084.2,2440.1 2083.0,2446.4 2083.0,2452.8 C2083.0,2459.2 2084.2,2465.5 2087.7,2471.9 C2091.1,2478.3 2095.7,2484.1 2103.7,2491.0 C2111.7,2497.9 2122.2,2506.9 2135.5,2513.3 C2148.8,2519.7 2164.6,2524.4 2183.2,2529.2 C2201.8,2534.0 2225.7,2539.2 2246.9,2541.9 C2268.1,2544.6 2289.4,2545.1 2310.6,2545.1 C2331.8,2545.1 2350.3,2544.6 2374.2,2541.9 C2398.1,2539.2 2432.6,2534.0 2453.8,2529.2 C2475.0,2524.4 2488.3,2519.1 2501.6,2513.3 C2514.9,2507.5 2524.9,2500.6 2533.4,2494.2 C2541.9,2487.8 2548.0,2482.0 2552.5,2475.1 C2557.0,2468.2 2560.0,2459.7 2560.5,2452.8 C2561.0,2445.9 2558.6,2439.5 2555.7,2433.7 C2552.8,2427.9 2547.8,2422.6 2543.0,2417.8 C2538.2,2413.0 2532.8,2409.5 2527.0,2405.0 C2521.2,2400.5 2511.1,2393.1 2507.9,2390.7" fill="none" stroke="#000" stroke-width="1.1" stroke-linejoin="round" stroke-linecap="round" /><path d="M2049.5,2423.4 L2123.4,2399.5 L2109.4,2448.9" fill="none" stroke="#000" stroke-width="1.1" stroke-linejoin="round" stroke-linecap="round" /><path d="M2570.0,2404.3 L2507.9,2390.5 L2529.6,2448.2" fill="none" stroke="#000" stroke-width="1.1" stroke-linejoin="round" stroke-linecap="round" /><rect x="1088" y="2106" width="4" height="4" fill="#000"/><path d="M15.5,2634.6 L20.5,2639.6 L15.5,2644.6 L10.5,2639.6 Z" fill="none" stroke="#000" stroke-width="1.5"/><path d="M15.5,2637.1 L18.0,2639.6 L15.5,2642.1 L13.0,2639.6 Z" fill="#000"/><path d="M2639.6,9.9 L2644.6,14.9 L2639.6,19.9 L2634.6,14.9 Z" fill="none" stroke="#000" stroke-width="1.5"/><path d="M2639.6,12.4 L2642.1,14.9 L2639.6,17.4 L2637.1,14.9 Z" fill="#000"/>
</svg></body></html>
